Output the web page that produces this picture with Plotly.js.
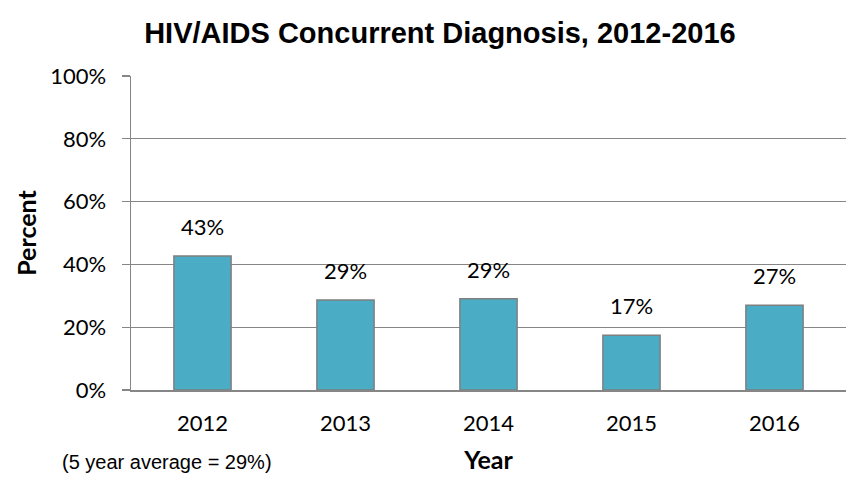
<!DOCTYPE html>
<html>
<head>
<meta charset="utf-8">
<script src="https://cdn.plot.ly/plotly-3.0.1.min.js"></script>
<style>html,body{margin:0;padding:0;background:#fff;}#chart{width:846px;height:502px;}</style>
</head>
<body>
<div id="chart"></div>
<script>
var years = ["2012", "2013", "2014", "2015", "2016"];
var percents = [42.7, 28.7, 29.1, 17.4, 27.0];
var labels = ["43%", "29%", "29%", "17%", "27%"];
var yTicks = [0, 20, 40, 60, 80, 100];
var yTickText = ["0%", "20%", "40%", "60%", "80%", "100%"];

var positions = years.map(function (y, i) { return i; });
var tickFont = {family: "Lato, 'Open Sans', sans-serif", size: 22, color: "#000"};
var titleFont = {family: "Lato, 'Open Sans', sans-serif", size: 25, color: "#000"};

var trace = {
  type: "bar",
  x: positions,
  y: percents,
  width: 0.4,
  marker: {color: "#4BACC6", line: {color: "#7F7F7F", width: 1.5}},
  hoverinfo: "none"
};

var annotations = positions.map(function (p, i) {
  return {
    x: p, y: percents[i], xref: "x", yref: "y",
    text: labels[i], showarrow: false,
    yanchor: "bottom", yshift: 14,
    font: tickFont
  };
});
annotations.push({
  xref: "paper", yref: "paper", x: -0.099, y: -0.23,
  xanchor: "left", yanchor: "middle",
  text: "(5 year average = 29%)", showarrow: false,
  font: {family: "'Liberation Sans', Arial, sans-serif", size: 20, color: "#000"}
});

var layout = {
  width: 846, height: 502,
  margin: {l: 131, r: 0, t: 76, b: 112},
  paper_bgcolor: "#fff", plot_bgcolor: "#fff",
  showlegend: false,
  title: {
    text: "<b>HIV/AIDS Concurrent Diagnosis, 2012-2016</b>",
    font: {family: "'Liberation Sans', Arial, sans-serif", size: 29, color: "#000"},
    x: 0.52, xanchor: "center", y: 0.935, yanchor: "middle"
  },
  xaxis: {
    range: [-0.5, 4.5],
    tickvals: positions, ticktext: years,
    showgrid: false, zeroline: false,
    showline: true, linecolor: "#868686", linewidth: 1.5,
    ticks: "", tickfont: tickFont, ticklabelstandoff: 13,
    title: {text: "<b>Year</b>", font: titleFont, standoff: 16},
    fixedrange: true
  },
  yaxis: {
    range: [0, 100],
    tickvals: yTicks, ticktext: yTickText,
    showgrid: true, gridcolor: "#868686", gridwidth: 1.3,
    zeroline: false,
    showline: true, linecolor: "#868686", linewidth: 1.5,
    ticks: "outside", ticklen: 8, tickcolor: "#868686", tickwidth: 1.3,
    tickfont: tickFont, ticklabelstandoff: 11,
    title: {text: "<b>Percent</b>", font: titleFont, standoff: 6},
    fixedrange: true
  },
  annotations: annotations
};

Plotly.newPlot("chart", [trace], layout, {displayModeBar: false, staticPlot: true});
</script>
</body>
</html>
